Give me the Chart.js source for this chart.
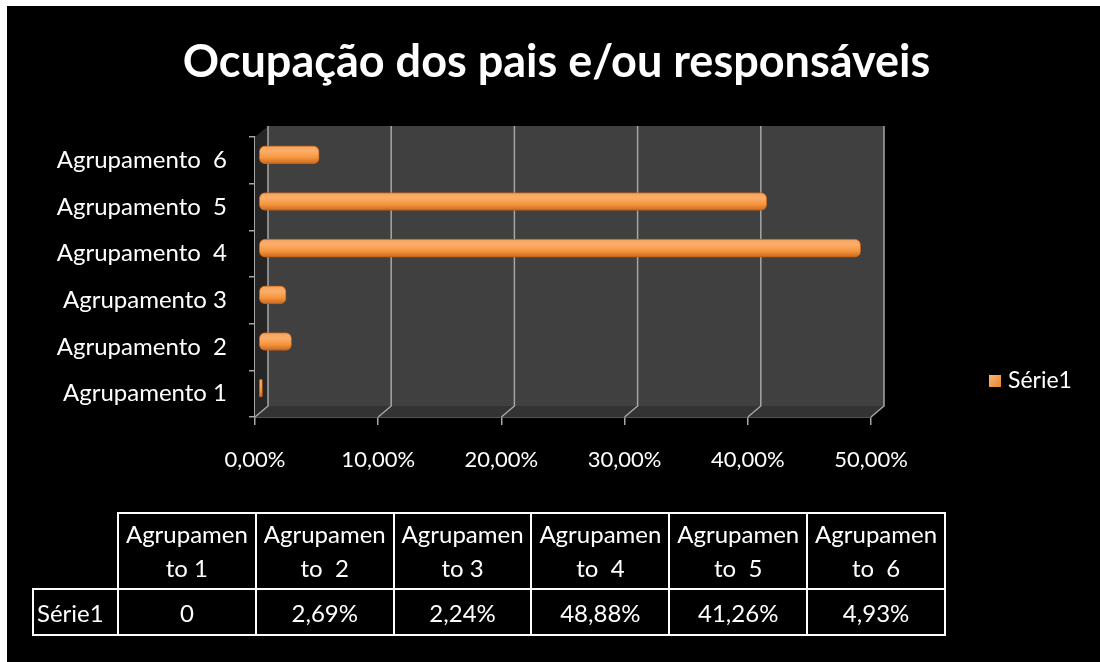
<!DOCTYPE html>
<meta charset="utf-8">
<html lang="pt">
<head>
  <title>Ocupação dos pais e/ou responsáveis</title>
  <style type="text/css">
  body { margin: 0; background: #fff; }
  #frame { position: absolute; left: 7px; top: 6px; width: 1093px; height: 656px; background: #000; }
  #myChart { position: absolute; left: 0; top: 0; }
  #title { position: absolute; left: 0; width: 1113px; top: 38px; text-align: center; color: #fff;
    font: bold 45px/45px Lato, sans-serif; white-space: pre; }
  #legend { position: absolute; left: 989px; top: 365px; color: #fff; font: 23px Lato, sans-serif; }
  #legend span.box { display: inline-block; width: 12px; height: 12px; margin-right: 7px;
    background: linear-gradient(135deg, #fbb778, #e9842f); vertical-align: 1px; }
  #tbl { position: absolute; left: 32px; top: 512px; border-collapse: collapse; color: #fff;
    font: 24px Lato, sans-serif; table-layout: fixed; width: 914px; }
  #tbl td { border: 2px solid #fff; text-align: center; padding: 0; white-space: pre; overflow: hidden; }
  #tbl tr.head td { height: 74px; line-height: 34px; }
  #tbl tr.vals td { height: 44px; }
  #tbl td.corner { border-top: none; border-left: none; }
  #tbl td.rowname { text-align: left; padding-left: 3px; }
  </style>
</head>
<body>

<div id="frame"></div>
<canvas id="myChart" width="1100" height="662"></canvas>
<div id="title"></div>
<div id="legend"><span class="box"></span><span id="legtext"></span></div>
<table id="tbl">
  <colgroup><col style="width:85px"><col><col><col><col><col><col></colgroup>
</table>

<script src="https://cdn.jsdelivr.net/npm/chart.js"></script>

<script>

  const TITLE = 'Ocupação dos pais e/ou responsáveis';
  const SERIES = 'Série1';
  const CATEGORIES = ['Agrupamento 1', 'Agrupamento  2', 'Agrupamento 3', 'Agrupamento  4', 'Agrupamento  5', 'Agrupamento  6'];
  const HEAD_LABELS = [['Agrupamen', 'to 1'], ['Agrupamen', 'to  2'], ['Agrupamen', 'to 3'], ['Agrupamen', 'to  4'], ['Agrupamen', 'to  5'], ['Agrupamen', 'to  6']];
  const VALUES = [0, 2.69, 2.24, 48.88, 41.26, 4.93];
  const X_TICKS = [0, 10, 20, 30, 40, 50];

  const DX = 13, DY = 11;   // depth of the fake 3d box
  const BAR_H = 18;
  const FONT = 'Lato';

  function pct(v) { return v.toFixed(2).replace('.', ',') + '%'; }

  document.getElementById('title').textContent = TITLE;
  document.getElementById('legtext').textContent = SERIES;

  // table under the chart
  const tbl = document.getElementById('tbl');
  const head = tbl.insertRow(); head.className = 'head';
  head.insertCell().className = 'corner';
  HEAD_LABELS.forEach(l => { head.insertCell().textContent = l[0] + '\n' + l[1]; });
  const vals = tbl.insertRow(); vals.className = 'vals';
  const rn = vals.insertCell(); rn.className = 'rowname'; rn.textContent = SERIES;
  VALUES.forEach(v => { vals.insertCell().textContent = (v === 0 ? '0' : pct(v)); });

  // shaded cylinder look for each bar
  function barFill(context) {
    const chart = context.chart;
    const ys = chart.scales.y;
    if (!ys || context.dataIndex === undefined) return '#f79646';
    const cy = ys.getPixelForValue(context.dataIndex);
    if (!Number.isFinite(cy)) return '#f79646';
    const g = chart.ctx.createLinearGradient(0, cy - BAR_H / 2, 0, cy + BAR_H / 2);
    g.addColorStop(0, '#f4a35e');
    g.addColorStop(0.3, '#fbae6a');
    g.addColorStop(0.65, '#f7963f');
    g.addColorStop(1, '#c8691f');
    return g;
  }

  // walls, floor and back gridlines
  const box3d = {
    id: 'box3d',
    beforeDatasetsDraw(chart) {
      const a = chart.chartArea, c = chart.ctx, xs = chart.scales.x;
      c.save();
      // left wall
      c.fillStyle = '#262626';
      c.beginPath();
      c.moveTo(a.left, a.top); c.lineTo(a.left + DX, a.top - DY);
      c.lineTo(a.left + DX, a.bottom - DY); c.lineTo(a.left, a.bottom);
      c.closePath(); c.fill();
      // back wall
      c.fillStyle = '#404040';
      c.fillRect(a.left + DX, a.top - DY, a.right - a.left, a.bottom - a.top);
      // floor
      c.fillStyle = '#333333';
      c.beginPath();
      c.moveTo(a.left, a.bottom); c.lineTo(a.left + DX, a.bottom - DY);
      c.lineTo(a.right + DX, a.bottom - DY); c.lineTo(a.right, a.bottom);
      c.closePath(); c.fill();
      // gridlines
      c.strokeStyle = '#a6a6a6';
      c.lineWidth = 1.5;
      X_TICKS.forEach(v => {
        const px = xs.getPixelForValue(v);
        c.beginPath();
        c.moveTo(px, a.bottom);
        c.lineTo(px + DX, a.bottom - DY);
        c.lineTo(px + DX, a.top - DY);
        c.stroke();
      });
      // push the bars to the middle of the depth
      c.translate(DX / 2 - 3, -DY / 2);
    },
    afterDatasetsDraw(chart) {
      chart.ctx.restore();
    }
  };

  const ctx = document.getElementById('myChart');
  const our_chart = new Chart(ctx, {
    type: 'bar',
    plugins: [box3d],
    data: {
      labels: CATEGORIES,
      datasets: [{
        label: SERIES,
        data: VALUES,
        backgroundColor: barFill,
        borderColor: '#b85f1a',
        borderWidth: 1,
        borderRadius: 6,
        borderSkipped: false,
        barThickness: BAR_H,
        minBarLength: 4
      }]
    },
    options: {
      indexAxis: 'y',
      responsive: false,
      animation: false,
      layout: { padding: { left: 55, right: 229, top: 137, bottom: 185 } },
      plugins: {
        legend: { display: false },
        tooltip: { enabled: false },
        title: { display: false }
      },
      scales: {
        x: {
          min: 0, max: 50,
          afterBuildTicks: (axis) => { axis.ticks = X_TICKS.map(v => ({ value: v })); },
          afterFit: (s) => { s.height = 60; },
          border: { color: '#a6a6a6', width: 1.5 },
          grid: { drawOnChartArea: false, color: '#a6a6a6', tickLength: 8, lineWidth: 1.5 },
          ticks: {
            color: '#ffffff',
            padding: 22,
            font: { family: FONT, size: 22 },
            callback: (v) => pct(v)
          }
        },
        y: {
          reverse: true,
          afterFit: (s) => { s.width = 200; },
          border: { color: '#a6a6a6', width: 1.5 },
          grid: { drawOnChartArea: false, color: '#a6a6a6', tickLength: 6, lineWidth: 1.5, offset: true },
          ticks: {
            color: '#ffffff',
            padding: 22,
            font: { family: FONT, size: 24 }
          }
        }
      }
    }
  });
</script>
</body>
</html>
